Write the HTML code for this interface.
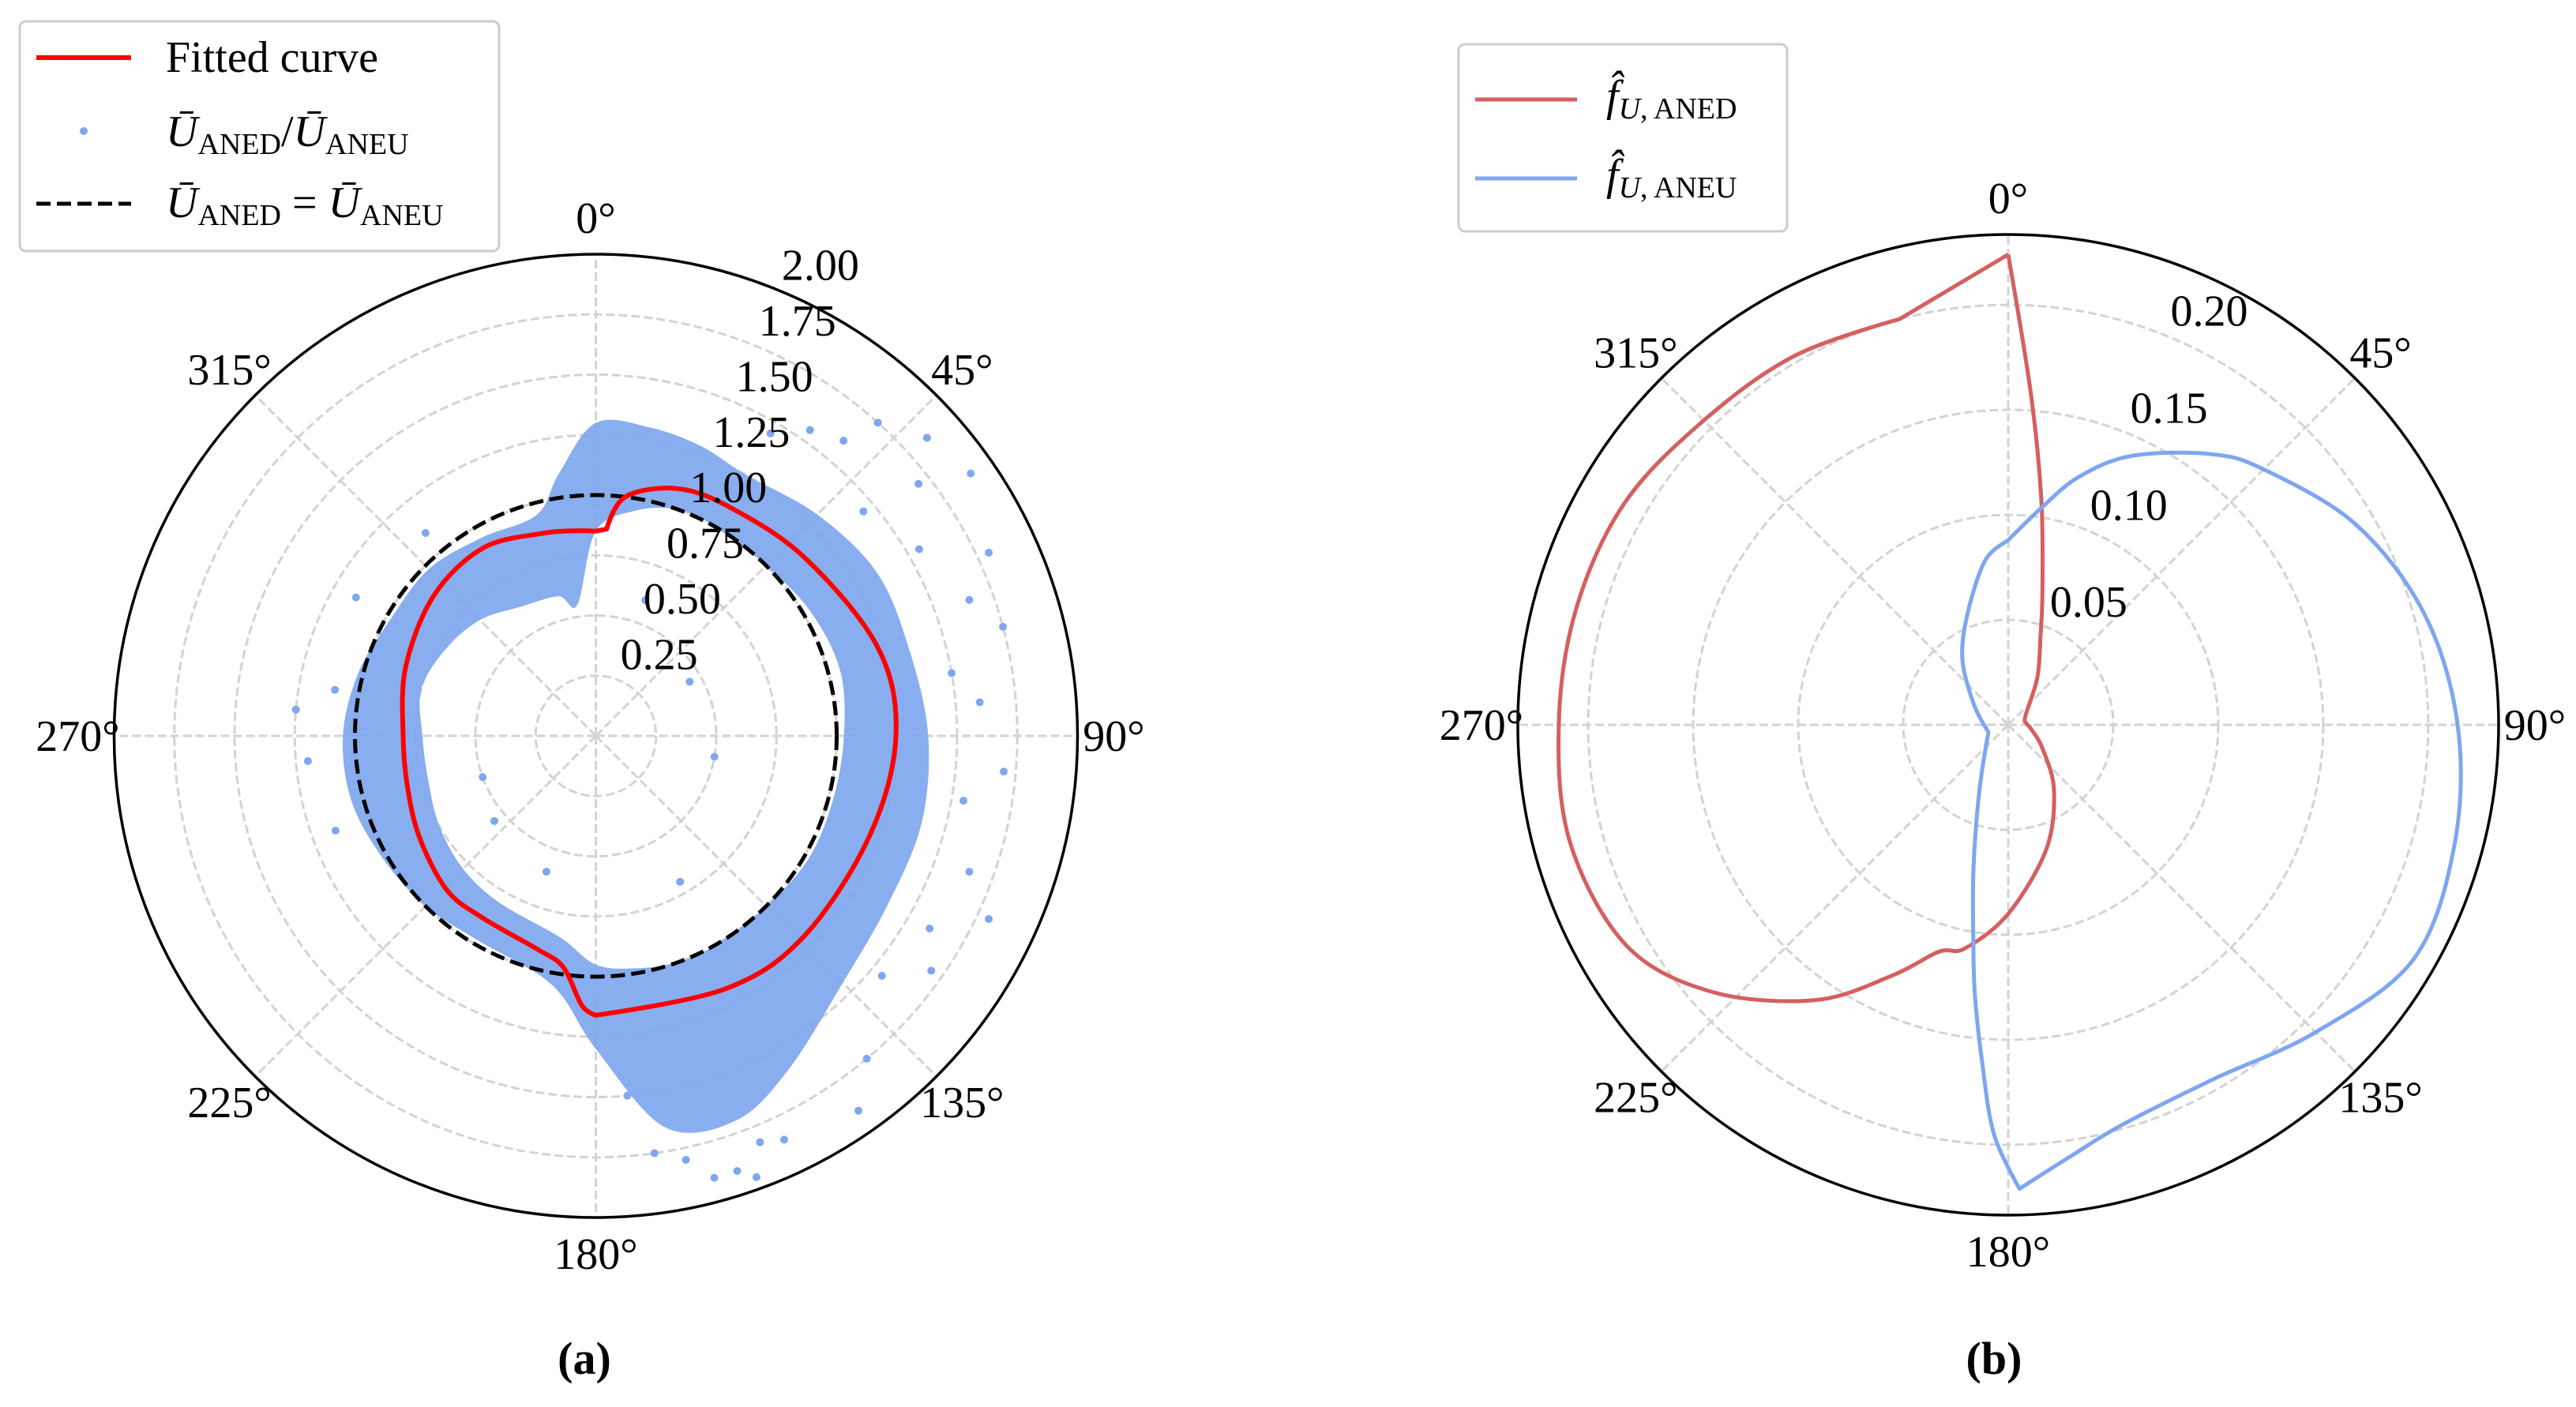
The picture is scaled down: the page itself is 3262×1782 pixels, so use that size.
<!DOCTYPE html>
<html><head><meta charset="utf-8"><style>
html,body{margin:0;padding:0;background:#fff;}
svg{display:block;font-family:"Liberation Serif",serif;}
</style></head><body>
<svg id="fig" xmlns="http://www.w3.org/2000/svg" width="3262" height="1782" viewBox="0 0 3262 1782">
<g id="pa"></g>
<g id="pb"></g>
<g>
<rect x="25" y="27" width="607" height="291" rx="8" fill="#fff" stroke="#cccccc" stroke-width="3"/>
<line x1="46" y1="73" x2="166" y2="73" stroke="#ff0000" stroke-width="6"/>
<text x="210" y="91" font-size="56">Fitted curve</text>
<circle cx="106" cy="166" r="5" fill="#7fa7ee"/>
<text x="210" y="185" font-size="56"><tspan font-style="italic">Ū</tspan><tspan font-size="38" dy="10">ANED</tspan><tspan dy="-10">/</tspan><tspan font-style="italic">Ū</tspan><tspan font-size="38" dy="10">ANEU</tspan></text>
<line x1="46" y1="258" x2="166" y2="258" stroke="#000" stroke-width="5" stroke-dasharray="18,8"/>
<text x="210" y="275" font-size="56"><tspan font-style="italic">Ū</tspan><tspan font-size="38" dy="10">ANED</tspan><tspan dy="-10"> = </tspan><tspan font-style="italic">Ū</tspan><tspan font-size="38" dy="10">ANEU</tspan></text>
</g>
<g>
<rect x="1847" y="56" width="416" height="237" rx="8" fill="#fff" stroke="#cccccc" stroke-width="3"/>
<line x1="1868" y1="126" x2="1997" y2="126" stroke="#d65f5f" stroke-width="5"/>
<text x="2034" y="140" font-size="56"><tspan font-style="italic">f̂</tspan><tspan font-size="38" dy="10"><tspan font-style="italic">U</tspan>, ANED</tspan></text>
<line x1="1868" y1="226" x2="1997" y2="226" stroke="#7ea6f0" stroke-width="5"/>
<text x="2034" y="240" font-size="56"><tspan font-style="italic">f̂</tspan><tspan font-size="38" dy="10"><tspan font-style="italic">U</tspan>, ANEU</tspan></text>
</g>
<text x="740" y="1740" font-size="58" font-weight="bold" text-anchor="middle">(a)</text>
<text x="2525" y="1740" font-size="58" font-weight="bold" text-anchor="middle">(b)</text>
</svg>
<script>
// ---- Chart (a) data ----
const fitAngles = [0,3,7,18,30,49.5,72.6,90,110,134,153,180,183,188,195,212,224,240,255,270,290,311,329,345,355,360];
const fitValues = [0.85,0.86,1.0,1.08,1.10,1.14,1.227,1.246,1.21,1.20,1.18,1.16,1.12,0.97,0.92,0.89,0.89,0.845,0.81,0.80,0.84,0.89,0.91,0.87,0.855,0.85];
const bandAngles = [0,10,20,30,45,60,75,90,105,120,135,150,160,170,180,190,210,225,240,255,270,285,300,315,330,345,352,360];
const bandInner = [0.85,0.95,1.0,1.0,1.0,1.03,1.05,1.03,1.02,1.02,1.0,1.0,1.0,0.98,0.95,0.85,0.80,0.78,0.75,0.72,0.72,0.75,0.72,0.68,0.62,0.6,0.55,0.85];
const bandOuter = [1.30,1.30,1.28,1.25,1.30,1.35,1.35,1.38,1.40,1.40,1.45,1.60,1.70,1.65,1.30,1.05,0.98,1.0,1.02,1.05,1.05,1.02,0.98,0.98,0.95,0.95,1.1,1.30];
const outlierAngles = [40,42,48,52,55,60,65,70,75,80,85,95,100,110,115,120,125,130,140,145,155,160,165,168,172,30,35,50,250,265,275,280,300,320,200,230,20,60,100,150,250,158,162,175];
const outlierValues = [1.6,1.75,1.85,1.7,1.9,1.55,1.8,1.65,1.75,1.5,1.6,1.7,1.55,1.65,1.8,1.6,1.7,1.55,1.75,1.9,1.85,1.95,1.9,1.8,1.75,1.45,1.55,1.45,1.15,1.2,1.25,1.1,1.15,1.1,0.6,0.55,0.6,0.45,0.5,0.7,0.5,1.82,1.9,1.5];
const ticksA = [0.25,0.5,0.75,1.0,1.25,1.5,1.75,2.0];
const tickLabelsA = ["0.25","0.50","0.75","1.00","1.25","1.50","1.75","2.00"];
const refValue = 1.0;
const fitCorners = [3,180];
// ---- Chart (b) data ----
const anedAngles = [0,4,8.4,14.5,20,31.6,63,85,100,124,145,163,180,191,197,205,215,228,240,255,270,285,300,315,330,345,360];
const anedValues = [0.224,0.157,0.108,0.065,0.045,0.0265,0.0092,0.0087,0.011,0.0195,0.038,0.062,0.09,0.1085,0.113,0.132,0.160,0.190,0.210,0.216,0.214,0.213,0.211,0.205,0.203,0.200,0.224];
const anedCorners = [0,345,360];
const aneuAngles = [0,8.9,16,24.7,36.8,45,60,75,90,105,120,135,150,164,172,178.6,182,184.5,187,189,193.4,203,250,300,325,340,352,360];
const aneuValues = [0.088,0.105,0.123,0.141,0.161,0.172,0.191,0.205,0.214,0.22,0.223,0.207,0.195,0.198,0.208,0.221,0.195,0.16,0.13,0.106,0.0715,0.0355,0.010,0.0187,0.038,0.0565,0.079,0.088];
const aneuCorners = [178.6,250];
const ticksB = [0.05,0.10,0.15,0.20];
const tickLabelsB = ["0.05","0.10","0.15","0.20"];
const angleTicks = [0,45,90,135,180,225,270,315];

const NS = "http://www.w3.org/2000/svg";
function mk(parent, tag, attrs){const e=document.createElementNS(NS,tag);for(const k in attrs)e.setAttribute(k,attrs[k]);parent.appendChild(e);return e;}
function polar(cx,cy,R,rmax){return (deg,r)=>{const a=deg*Math.PI/180;const s=R/rmax*r;return [cx+s*Math.sin(a),cy-s*Math.cos(a)];};}
function smoothPath(P,angles,vals,close,corners){
  corners=corners||[];
  const pts=angles.map((a,i)=>P(a,vals[i]));
  const isC=i=>corners.indexOf(angles[i])>=0;
  let d='M'+pts[0][0].toFixed(1)+' '+pts[0][1].toFixed(1);
  const n=pts.length;
  for(let i=0;i<n-1;i++){
    const p0=pts[i>0?i-1:(close?n-2:0)], p1=pts[i], p2=pts[i+1], p3=pts[i+2<n?i+2:(close?1:n-1)];
    const t=0.5/3;
    const c1=isC(i)?p1:[p1[0]+(p2[0]-p0[0])*t, p1[1]+(p2[1]-p0[1])*t];
    const c2=isC(i+1)?p2:[p2[0]-(p3[0]-p1[0])*t, p2[1]-(p3[1]-p1[1])*t];
    d+=' C'+c1[0].toFixed(1)+' '+c1[1].toFixed(1)+' '+c2[0].toFixed(1)+' '+c2[1].toFixed(1)+' '+p2[0].toFixed(1)+' '+p2[1].toFixed(1);
  }
  return d+(close?' Z':'');
}

function axes(g,cx,cy,R,P,ticks,labels,rmax,name){
  for(const t of ticks){
    if(Math.abs(t-rmax)<1e-9) continue;
    const c=mk(g,'circle',{cx:cx,cy:cy,r:R/rmax*t,fill:'none',stroke:'#d3d3d3','stroke-width':3,'stroke-dasharray':'11,5'});
    
    
  }
  for(const a of angleTicks){
    const p=P(a,rmax);
    const l=mk(g,'line',{x1:cx,y1:cy,x2:p[0],y2:p[1],stroke:'#d3d3d3','stroke-width':3,'stroke-dasharray':'11,5'});
    
    
    const q=P(a,rmax*(R+46)/R);
    const t=mk(g,'text',{x:q[0],y:q[1]+19,'font-size':56,'text-anchor':'middle'});
    t.textContent=a+'°';
    
    
  }
}
function outer(g,cx,cy,R,name){
  const c=mk(g,'circle',{cx:cx,cy:cy,r:R,fill:'none',stroke:'#000','stroke-width':3.5});
  
  
}
function rlabels(g,P,ticks,labels,name){
  ticks.forEach((t,i)=>{
    const p=P(22.5,t);
    const tx=mk(g,'text',{x:p[0]+2,y:p[1]-14,'font-size':56});
    tx.textContent=labels[i];
    
    
  });
}

// Chart a
(function(){
  const g=document.getElementById('pa');
  const cx=754.5,cy=932,R=610,rmax=2.0;
  const P=polar(cx,cy,R,rmax);
  axes(g,cx,cy,R,P,ticksA,tickLabelsA,rmax,'chart-a');
  const band=mk(g,'path',{d:smoothPath(P,bandAngles,bandOuter,true)+' '+smoothPath(P,bandAngles,bandInner,true),fill:'#7fa7ee','fill-opacity':0.92,'fill-rule':'evenodd'});
  
  
  outlierAngles.forEach((a,i)=>{
    const p=P(a,outlierValues[i]);
    const c=mk(g,'circle',{cx:p[0],cy:p[1],r:5,fill:'#7fa7ee'});
    
    
  });
  const ref=mk(g,'circle',{cx:cx,cy:cy,r:R/rmax*refValue,fill:'none',stroke:'#000','stroke-width':5,'stroke-dasharray':'18,8'});
  
  
  const fit=mk(g,'path',{d:smoothPath(P,fitAngles,fitValues,false,fitCorners),fill:'none',stroke:'#ff0000','stroke-width':6,'stroke-linejoin':'round'});
  
  
  outer(g,cx,cy,R,'chart-a');
  rlabels(g,P,ticksA,tickLabelsA,'chart-a');
})();
// Chart b
(function(){
  const g=document.getElementById('pb');
  const cx=2543,cy=918,R=621,rmax=0.2335;
  const P=polar(cx,cy,R,rmax);
  axes(g,cx,cy,R,P,ticksB,tickLabelsB,rmax,'chart-b');
  const a=mk(g,'path',{d:smoothPath(P,anedAngles,anedValues,false,anedCorners),fill:'none',stroke:'#d65f5f','stroke-width':5,'stroke-linejoin':'round'});
  
  
  const b=mk(g,'path',{d:smoothPath(P,aneuAngles,aneuValues,false,aneuCorners),fill:'none',stroke:'#7ea6f0','stroke-width':5,'stroke-linejoin':'round'});
  
  
  outer(g,cx,cy,R,'chart-b');
  rlabels(g,P,ticksB,tickLabelsB,'chart-b');
})();
</script>
</body></html>
